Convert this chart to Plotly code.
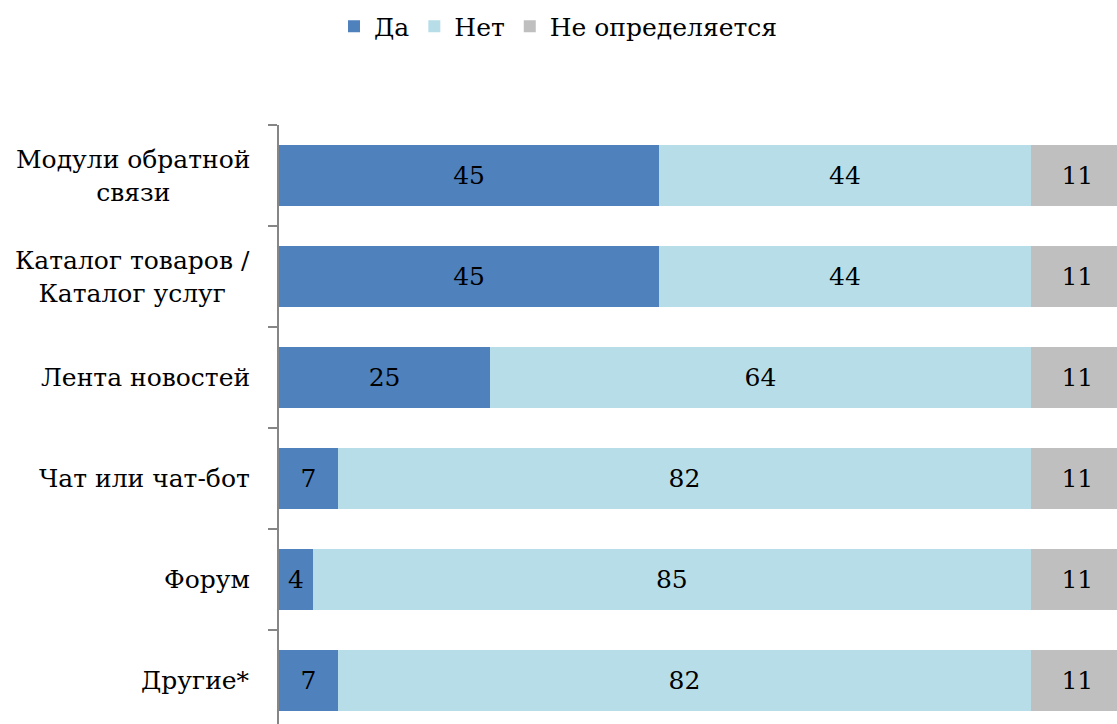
import plotly.graph_objects as go

# Survey: which website features are present (share of responses, %)
categories = [
    "Модули обратной<br>связи",
    "Каталог товаров /<br>Каталог услуг",
    "Лента новостей",
    "Чат или чат-бот",
    "Форум",
    "Другие*",
]
yes_vals = [45, 45, 25, 7, 4, 7]
no_vals = [44, 44, 64, 82, 85, 82]
undefined_vals = [11, 11, 11, 11, 11, 11]

series_names = ["Да", "Нет", "Не определяется"]
series_colors = ["#4F81BD", "#B7DEE8", "#BFBFBF"]

FONT = "DejaVu Serif"
FONT_SIZE = 25

fig = go.Figure()
for name, vals, color in zip(series_names, [yes_vals, no_vals, undefined_vals], series_colors):
    fig.add_trace(go.Bar(
        y=categories,
        x=vals,
        name=name,
        orientation="h",
        marker=dict(color=color, line=dict(width=0)),
        text=[str(v) for v in vals],
        textposition="inside",
        insidetextanchor="middle",
        textangle=0,
        textfont=dict(family=FONT, size=FONT_SIZE, color="black"),
    ))

# Category labels, lines centered against each other
for cat in categories:
    fig.add_annotation(
        x=0, xref="x", y=cat, yref="y",
        text=cat, showarrow=False,
        xanchor="right", yanchor="middle", align="center",
        xshift=-27,
        font=dict(family=FONT, size=FONT_SIZE, color="black"),
    )

fig.update_layout(
    width=1117,
    height=724,
    barmode="stack",
    bargap=0.4,
    paper_bgcolor="white",
    plot_bgcolor="white",
    margin=dict(l=279, r=0, t=125, b=0),
    font=dict(family=FONT, size=FONT_SIZE, color="black"),
    legend=dict(
        orientation="h",
        xref="container", yref="container",
        x=0.5, xanchor="center",
        y=0.995, yanchor="top",
        font=dict(family=FONT, size=FONT_SIZE, color="black"),
        itemwidth=30,
        traceorder="normal",
    ),
    showlegend=True,
)
fig.update_xaxes(
    range=[0, 99.2],
    showgrid=False, zeroline=False, showline=False,
    showticklabels=False, ticks="",
)
fig.update_yaxes(
    type="category",
    range=[5.43, -0.5],
    showgrid=False, zeroline=False,
    showline=True, linecolor="#868686", linewidth=2,
    ticks="outside", tickson="boundaries", ticklen=9,
    tickcolor="#868686", tickwidth=1.5,
    showticklabels=False,
)

fig.write_html("out.html")
